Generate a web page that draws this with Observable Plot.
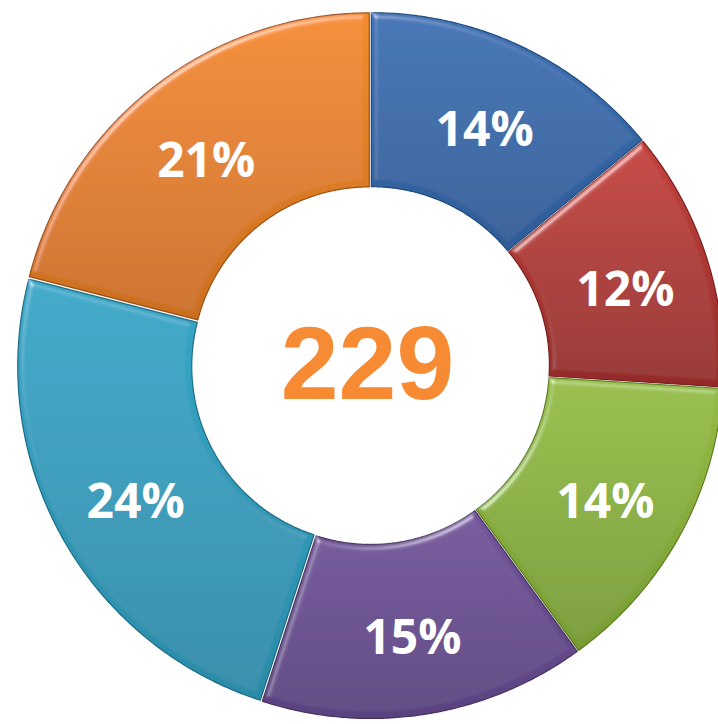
<!DOCTYPE html>
<html><head><meta charset="utf-8">
<script src="https://cdn.jsdelivr.net/npm/d3@7"></script>
<script src="https://cdn.jsdelivr.net/npm/@observablehq/plot@0.6"></script>
<style>html,body{margin:0;padding:0;background:#fff;overflow:hidden}</style>
</head><body><div id="chart"></div>
<script>
// Data (clockwise from 12 o'clock)
const shares = [14, 12, 14, 15, 24, 21];
const shareLabels = ["14%", "12%", "14%", "15%", "24%", "21%"];
const centerTotal = ["229"];

// Palette (styles kept apart from data)
const topColors    = ["#3C72B4", "#C4423C", "#96BD45", "#74559B", "#36A7C7", "#F38C2E"];
const bottomColors = ["#2E5C97", "#932B28", "#779B33", "#5A4280", "#2B8BA8", "#CA6E1F"];
const edgeColors   = ["#234A7E", "#7A2020", "#5E7D25", "#46325F", "#1E6C85", "#9A5214"];

const W = 718, H = 724, CX = 370, CY = 365;
const R_OUT = 351, R_IN = 177, R_LABEL = 268, EXPLODE = 2;

const arcs = d3.pie().sort(null).value(d => d)(shares);
const slicePts = [];
const labelPts = [];
arcs.forEach((p, i) => {
  const a0 = p.startAngle, a1 = p.endAngle, mid = (a0 + a1) / 2;
  const ox = EXPLODE * Math.sin(mid), oy = EXPLODE * Math.cos(mid);
  const n = Math.max(8, Math.ceil((a1 - a0) * 120));
  for (let k = 0; k <= n; k++) {
    const a = a0 + (a1 - a0) * k / n;
    slicePts.push({slice: i, x: ox + R_OUT * Math.sin(a), y: oy + R_OUT * Math.cos(a)});
  }
  for (let k = n; k >= 0; k--) {
    const a = a0 + (a1 - a0) * k / n;
    slicePts.push({slice: i, x: ox + R_IN * Math.sin(a), y: oy + R_IN * Math.cos(a)});
  }
  labelPts.push({x: R_LABEL * Math.sin(mid), y: R_LABEL * Math.cos(mid), label: shareLabels[i]});
});

const plot = Plot.plot({
  width: W, height: H, margin: 0,
  x: {domain: [-CX, W - CX], axis: null},
  y: {domain: [-(H - CY), CY], axis: null},
  marks: [
    ...arcs.map((p, i) => Plot.line(slicePts.filter(d => d.slice === i), {
      x: "x", y: "y", curve: "linear-closed",
      fill: `url(#sliceGrad${i})`, stroke: edgeColors[i], strokeWidth: 1.2
    })),
    Plot.text(labelPts, {x: "x", y: "y", text: "label", fill: "white", dy: 8,
      fontSize: 48, fontWeight: "bold", fontFamily: "Open Sans"}),
    Plot.text(centerTotal, {x: () => 0, y: () => 0, text: d => d, fill: "#F68B33", dx: -3,
      fontSize: 104, fontWeight: "bold", fontFamily: "Liberation Sans, Arial"})
  ]
});

const svg = d3.select(plot);
const defs = svg.insert("defs", ":first-child");
arcs.forEach((p, i) => {
  const g = defs.append("linearGradient").attr("id", `sliceGrad${i}`)
    .attr("x1", 0).attr("y1", 0).attr("x2", 0).attr("y2", 1);
  g.append("stop").attr("offset", "0%").attr("stop-color", topColors[i]);
  g.append("stop").attr("offset", "100%").attr("stop-color", bottomColors[i]);
});
const f = defs.append("filter").attr("id", "bevel")
  .attr("x", "-5%").attr("y", "-5%").attr("width", "110%").attr("height", "110%");
f.append("feGaussianBlur").attr("in", "SourceAlpha").attr("stdDeviation", 3).attr("result", "blur");
const sp = f.append("feSpecularLighting").attr("in", "blur").attr("surfaceScale", 4)
  .attr("specularConstant", 0.7).attr("specularExponent", 30)
  .attr("lighting-color", "#ffffff").attr("result", "spec");
sp.append("feDistantLight").attr("azimuth", 235).attr("elevation", 40);
f.append("feComposite").attr("in", "spec").attr("in2", "SourceAlpha").attr("operator", "in").attr("result", "specOut");
f.append("feComposite").attr("in", "SourceGraphic").attr("in2", "specOut").attr("operator", "arithmetic")
  .attr("k1", 0).attr("k2", 1).attr("k3", 0.6).attr("k4", 0);
svg.selectAll('g[aria-label="line"] path').attr("filter", "url(#bevel)");

document.getElementById("chart").appendChild(plot);
</script>
</body></html>
